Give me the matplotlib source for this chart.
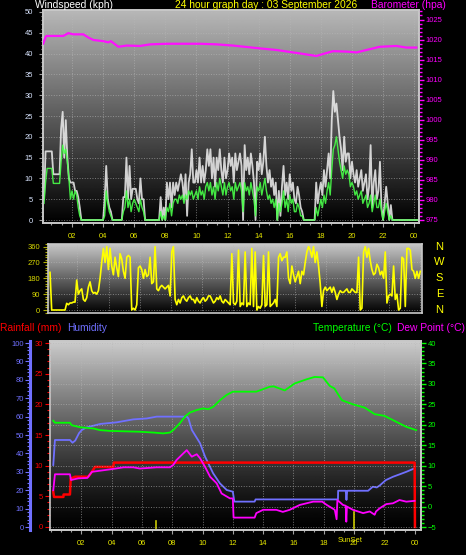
import numpy as np
import matplotlib.pyplot as plt
import matplotlib.transforms as mtransforms
from matplotlib.ticker import MultipleLocator, FixedLocator

plt.rcParams['font.family'] = ['Liberation Sans', 'DejaVu Sans']

# ---------------- data (hours since start of 24h window) ----------------
# wind speed, sampled every 6 minutes
wind_time = np.round(np.arange(0, 24.3, 0.1), 1)
gust = [
    np.nan, np.nan, 5, 16.5, 16.5, 16.5, 16.5, 16.5, 11, 11,
    11, 11, 11, 22, 26, 15, 24, 15, 10, 9,
    9, 9, 7, 7, 5.5, 3, 0, 0, 0, 0,
    0, 0, 0, 0, 0, 0, 0, 0, 0, 0,
    0, 5, 13, 5, 3, 2, 0, 0, 0, 0,
    0, 0, 0, 5.5, 5.5, 15, 5, 13, 5, 7.5,
    7.5, 7.5, 5, 4, 10, 5, 5, 0, 0, 0,
    0, 0, 0, 0, 0, 0, 0, 5.5, 0, 3,
    0, 9, 5, 9, 3, 9, 6, 9, 7, 9,
    11, 9, 5, 11, 1, 9, 11, 17, 9, 9,
    12, 9, 15, 9, 13, 9, 12, 17, 13, 17,
    10, 15, 8, 15, 12, 17, 12, 9, 15, 10,
    12, 16, 13, 15, 9, 16, 12, 14, 16, 13,
    0, 18, 12, 15, 11, 16, 13, 9, 0, 14,
    12, 16, 11, 14, 20, 13, 9, 12, 8, 10,
    6, 9, 0, 7, 1, 8, 13, 6, 9, 5,
    11, 7, 9, 5, 4, 8, 6, 3, 2, 0,
    0, 0, 0, 0, 0, 0, 0, 9, 4, 7,
    9, 6, 12, 8, 12, 16, 10, 24, 31, 26,
    28, 24, 20, 17, 12, 20, 14, 16, 16, 10,
    14, 11, 9, 12, 8, 10, 12, 7, 9, 11,
    5, 8, 18, 3, 9, 12, 5, 7, 14, 3,
    0, 4, 8, 4, 0, 3.6, 0, 0, 0, 0,
    0, 0, 0, 0, 0, 0, 0, 0, 0, 0,
    0, 0, 0,
]
avg = [
    np.nan, np.nan, 4, 9, 12.4, 12.4, 12.4, 12.4, 8.8, 8.8,
    8.8, 8.8, 8.8, 14, 18, 16, 17, 14, 10, 5,
    7, 5, 7, 6, 3, 1, 0, 0, 0, 0,
    0, 0, 0, 0, 0, 0, 0, 0, 0, 0,
    0, 1, 7, 4, 2, 1, 0, 0, 0, 0,
    0, 0, 0, 2, 3, 7, 3, 5, 2, 4,
    5, 4, 3, 2, 5, 3, 2, 0, 0, 0,
    0, 0, 0, 0, 0, 0, 0, 2, 0, 1,
    0, 3, 2, 4, 1, 4, 5, 5, 4, 6,
    5, 6, 4, 6, 5, 7, 6, 7, 5, 6,
    7, 5, 8, 6, 7, 5, 8, 9, 7, 9,
    6, 8, 5, 9, 7, 10, 8, 6, 9, 6,
    8, 9, 7, 8, 5, 9, 7, 8, 9, 7,
    2, 9, 7, 8, 6, 9, 7, 5, 1, 8,
    7, 9, 6, 8, 10, 7, 5, 6, 4, 5,
    3, 5, 0, 4, 2, 4, 7, 3, 5, 2,
    6, 4, 5, 2, 2, 4, 3, 1, 1, 0,
    0, 0, 0, 0, 0, 0, 0, 3, 1, 3,
    5, 3, 6, 4, 7, 9, 6, 12, 17, 18,
    20, 17, 14, 12, 10, 13, 11, 12, 11, 8,
    9, 8, 6, 7, 5, 6, 7, 4, 5, 6,
    3, 4, 6, 2, 4, 6, 3, 3, 5, 2,
    0, 2, 4, 2, 0, 1, 0, 0, 0, 0,
    0, 0, 0, 0, 0, 0, 0, 0, 0, 0,
    0, 0, 0,
]

baro_time = [0.15, 0.31, 0.37, 1.44, 1.76, 2.08, 2.73, 3.05, 3.37, 4.01,
             4.33, 4.5, 4.98, 5.52, 6.37, 7.02, 8.09, 10.23, 11.3, 12.35,
             14.07, 15.14, 16.64, 17.71, 18.14, 18.78, 19.64, 20.3, 20.93, 21.79,
             22.86, 23.5, 24.14]
baro = [1019.0, 1020.7, 1020.9, 1020.9, 1021.6, 1021.3, 1021.3, 1020.5, 1019.9, 1019.6,
        1019.3, 1019.6, 1018.2, 1018.5, 1018.4, 1018.8, 1018.95, 1018.95, 1018.8, 1018.5,
        1017.8, 1017.4, 1016.55, 1015.9, 1016.4, 1017.1, 1017.0, 1016.8, 1017.4, 1018.2,
        1018.4, 1018.0, 1018.0]

# wind direction (degrees), regular samples across the window
wind_dir = [
    214, 0, 0, 0, 0, 0, 0, 0, 0, 0,
    38, 30, 40, 40, 45, 45, 170, 90, 110, 120,
    60, 50, 70, 130, 160, 110, 95, 100, 90, 110,
    180, 270, 350, 270, 360, 230, 350, 250, 200, 300,
    240, 190, 320, 290, 220, 180, 300, 310, 300, 0,
    10, 0, 30, 240, 250, 230, 180, 230, 190, 200,
    300, 150, 160, 360, 120, 110, 130, 140, 130, 120,
    130, 140, 80, 330, 360, 60, 30, 60, 40, 70,
    80, 60, 50, 70, 80, 60, 60, 40, 70, 50,
    40, 60, 70, 50, 60, 80, 80, 60, 40, 50,
    70, 60, 80, 50, 40, 60, 50, 40, 30, 320,
    40, 30, 50, 340, 20, 40, 30, 330, 20, 40,
    30, 350, 20, 330, 0, 20, 10, 30, 310, 20,
    30, 330, 20, 30, 40, 60, 20, 300, 320, 280,
    300, 300, 330, 180, 150, 250, 200, 160, 190, 220,
    150, 220, 200, 270, 330, 360, 340, 300, 360, 270,
    330, 250, 150, 20, 110, 130, 110, 120, 130, 100,
    130, 100, 60, 90, 110, 100, 100, 110, 120, 100,
    100, 120, 110, 100, 100, 300, 0, 10, 330, 360,
    300, 350, 280, 230, 200, 210, 260, 240, 200, 220,
    180, 330, 40, 80, 90, 80, 250, 60, 90, 0,
    10, 300, 290, 20, 350, 350, 340, 230, 220, 180,
    220, 180, 220,
]
wd_time = np.linspace(0.24, 24.03, len(wind_dir))

temp_time = [0.15, 0.26, 1.25, 1.36, 1.92, 2.79, 3.23, 3.9, 5.87, 6.76,
             7.41, 7.85, 8.07, 8.51, 8.84, 9.17, 9.61, 10.05, 10.38, 10.71,
             11.15, 11.59, 12.0, 13.55, 14.44, 14.7, 15.43, 16.08, 16.85, 17.4,
             17.95, 18.4, 18.7, 19.2, 19.93, 20.7, 21.36, 22.0, 22.7, 23.45, 24.1]
temperature = [21.0, 20.5, 20.5, 19.9, 19.4, 19.1, 18.7, 18.5, 18.3, 18.1,
               17.9, 18.1, 18.7, 20.4, 22.0, 23.0, 23.6, 24.0, 23.8, 24.4,
               26.0, 27.3, 28.1, 28.1, 29.3, 29.4, 28.4, 30.1, 31.1, 31.7,
               31.6, 29.5, 28.9, 26.0, 25.0, 24.2, 22.6, 22.2, 20.9, 19.5, 18.7]

hum_time = [0.15, 0.26, 1.25, 1.42, 1.6, 1.85, 2.03, 2.3, 3.24, 4.34,
            5.43, 6.32, 6.98, 8.96, 9.07, 9.3, 9.84, 10.17, 10.7, 11.15,
            11.6, 12.0, 12.1, 13.44, 13.5, 18.94, 18.95, 19.45, 19.5, 19.55,
            20.93, 21.24, 21.5, 21.7, 22.1, 22.57, 23.0, 23.45, 24.0]
humidity = [33.7, 47.3, 47.3, 45.8, 47.0, 51.0, 52.7, 54.0, 56.0, 56.9,
            58.5, 59.0, 60.0, 60.0, 59.0, 52.7, 45.5, 38.2, 29.2, 23.7,
            20.1, 19.2, 13.8, 13.8, 15.0, 15.0, 19.7, 19.7, 14.7, 19.7,
            19.7, 21.9, 21.5, 22.6, 25.5, 27.3, 28.6, 30.0, 31.9]

dew_time = [0.15, 0.26, 1.25, 1.32, 1.8, 2.4, 2.7, 3.9, 4.8, 5.43,
            5.87, 6.98, 7.85, 8.07, 8.29, 8.62, 8.96, 9.29, 9.62, 9.84,
            10.17, 10.5, 10.93, 11.26, 11.81, 12.0, 12.05, 13.44, 13.55, 14.0,
            14.87, 15.3, 15.75, 16.42, 17.3, 17.9, 18.2, 18.73, 18.85, 18.9,
            19.27, 19.45, 19.49, 19.53, 19.93, 20.6, 21.04, 21.36, 21.45, 21.7,
            22.13, 22.57, 23.0, 23.45, 24.0]
dew_point = [4.0, 7.9, 7.9, 6.5, 6.9, 7.0, 8.5, 9.1, 9.6, 9.6,
             9.3, 9.6, 9.6, 10.2, 11.4, 12.6, 13.8, 12.2, 12.8, 11.8,
             9.7, 7.3, 5.7, 3.2, 2.0, 2.0, -2.7, -2.7, -1.6, -0.8,
             -0.8, -1.3, -0.8, 0.4, 1.2, 1.2, 0.4, -0.8, -3.1, 1.6,
             0.4, 0.2, -3.7, 0.0, -0.8, -1.6, -1.2, -2.0, -1.2, -0.4,
             0.6, 0.8, 1.6, 1.2, 1.4]

rain_time = [0.15, 0.2, 0.82, 0.83, 1.25, 1.3, 1.59, 2.46, 2.7, 2.9,
             4.11, 4.15, 24.0, 24.02]
rainfall = [5.75, 4.9, 4.9, 5.3, 5.3, 7.9, 8.2, 8.2, 9.0, 9.8,
            9.8, 10.5, 10.5, 0.0]

sunrise, sunset = 6.91, 20.0
hour_ticks = list(range(2, 25, 2))
hour_labels = ['02', '04', '06', '08', '10', '12', '14', '16', '18', '20', '22', '00']

# ---------------- figure ----------------
W, H = 466, 555
fig = plt.figure(figsize=(W / 100, H / 100), dpi=100, facecolor='black')


def px_axes(x0, y0, x1, y1):
    return fig.add_axes([x0 / W, 1 - y1 / H, (x1 - x0) / W, (y1 - y0) / H])


def gradient(ax, top, power):
    t = np.linspace(0, 1, 256)[:, None]
    g = top * (1 - t) ** power
    ax.imshow(g, cmap='gray', vmin=0, vmax=1, aspect='auto', extent=(0, 1, 0, 1),
              transform=ax.transAxes, zorder=0, interpolation='bilinear')


def frame(ax, color='#c8c8c8'):
    for s in ax.spines.values():
        s.set_color(color)
        s.set_linewidth(1.2)


GRID = dict(color='#b8b8b8', ls=':', lw=0.7, alpha=0.6)
YEL = '#e6e600'
FS = 5.5
TFS = 7.4

# ---- top panel: wind speed + barometer ----
ax1 = px_axes(43, 10, 419, 223)
ax1.set_facecolor('black')
gradient(ax1, 0.72, 1.0)
ax1.plot(wind_time, gust, color='#f0f0f0', lw=1.3, alpha=0.85, zorder=3)
ax1.plot(wind_time, avg, color='#48ff48', lw=1.0, alpha=0.9, zorder=4)
ax1.set_xlim(0.135, 24.31)
ax1.set_ylim(-0.72, 50.48)
ax1.grid(True, which='major', **GRID)
ax1.xaxis.set_major_locator(FixedLocator(hour_ticks))
ax1.set_xticklabels(hour_labels)
ax1.xaxis.set_minor_locator(MultipleLocator(2 / 3))
ax1.yaxis.set_major_locator(MultipleLocator(5))
ax1.yaxis.set_minor_locator(MultipleLocator(1))
ax1.tick_params(axis='x', which='major', color='#a0a0a0', labelcolor=YEL, labelsize=FS, length=3, width=0.8, pad=4)
ax1.tick_params(axis='y', which='major', color='#a0a0a0', labelcolor='#d8e4ff', labelsize=FS, length=3, width=0.8, pad=4)
ax1.tick_params(which='minor', color='#a0a0a0', length=1.5, width=0.8)
frame(ax1)

ax1p = ax1.twinx()
ax1p.plot(baro_time, baro, color='#ff10ff', lw=1.6, zorder=5)
ax1p.set_ylim(974.25, 1027.37)
ax1p.yaxis.set_major_locator(MultipleLocator(5))
ax1p.yaxis.set_minor_locator(MultipleLocator(1))
ax1p.tick_params(axis='y', which='major', colors='#ff00ff', labelsize=FS, length=3.5, width=1.0, pad=1.5)
ax1p.tick_params(axis='y', which='minor', colors='#ff00ff', length=2, width=1.0)
frame(ax1p)

# ---- wind direction panel ----
ax2 = px_axes(48, 244, 422, 313)
gradient(ax2, 0.78, 1.0)
ax2.plot(wd_time, wind_dir, color='#ffff00', lw=1.2, zorder=3)
ax2.set_xlim(0.11, 24.14)
ax2.set_ylim(-17, 375)
ax2.yaxis.set_major_locator(FixedLocator([0, 90, 180, 270, 360]))
ax2.yaxis.set_minor_locator(MultipleLocator(15))
ax2.xaxis.set_major_locator(FixedLocator(hour_ticks))
ax2.grid(True, which='major', **GRID)
ax2.tick_params(axis='x', which='both', length=0, labelbottom=False)
ax2.tick_params(axis='y', which='major', color='#b0b000', labelcolor='#d8d800', labelsize=FS, length=3.5, width=0.8, pad=2)
ax2.tick_params(axis='y', which='minor', color='#b0b000', length=2, width=0.8)
frame(ax2)
tr2 = mtransforms.blended_transform_factory(ax2.transAxes, ax2.transData)
for lab, deg in zip(['N', 'W', 'S', 'E', 'N'], [360, 270, 180, 90, 0]):
    ax2.text(1.047, deg, lab, transform=tr2, color='#ffff00', fontsize=8,
             ha='center', va='center')

# ---- bottom panel: humidity, rain, temperature, dew point ----
ax3 = px_axes(50, 341, 420.7, 530)
gradient(ax3, 0.8, 1.3)
ax3.plot(hum_time, humidity, color='#7070ff', lw=1.3, zorder=3)
ax3.set_xlim(-0.066, 24.4)
ax3.set_ylim(-1.63, 101.1)
ax3.xaxis.set_major_locator(FixedLocator(hour_ticks))
ax3.set_xticklabels(hour_labels)
ax3.xaxis.set_minor_locator(MultipleLocator(2 / 3))
ax3.yaxis.set_major_locator(MultipleLocator(10))
ax3.yaxis.set_minor_locator(MultipleLocator(2))
ax3.grid(True, which='major', axis='x', **GRID)
frame(ax3)
ax3.spines['left'].set_position(('outward', 14.4))
ax3.spines['left'].set_color('#7070ff')
ax3.spines['left'].set_linewidth(2.2)
ax3.tick_params(axis='x', which='major', color='#a0a0a0', labelcolor=YEL, labelsize=FS, length=3, width=0.8, pad=4)
ax3.tick_params(axis='x', which='minor', color='#a0a0a0', length=1.5, width=0.8)
ax3.tick_params(axis='y', which='major', colors='#7070ff', labelsize=FS, length=3.5, width=0.8, pad=1)
ax3.tick_params(axis='y', which='minor', colors='#7070ff', length=2, width=0.8)
ax3.axvline(sunrise, ymin=0, ymax=0.048, color='#c8c800', lw=1.2, zorder=4)
ax3.axvline(sunset, ymin=0, ymax=0.095, color='#c8c800', lw=1.2, zorder=4)
tr3 = mtransforms.blended_transform_factory(ax3.transData, ax3.transAxes)
ax3.text(19.75, -0.056, 'SunSet', transform=tr3, color=YEL, fontsize=FS,
         ha='center', va='center')

axr = ax3.twinx()
axr.plot(rain_time, rainfall, color='#ff0000', lw=1.8, zorder=3)
axr.set_ylim(-0.49, 30.33)
axr.yaxis.tick_left()
axr.yaxis.set_label_position('left')
axr.yaxis.set_major_locator(MultipleLocator(5))
axr.yaxis.set_minor_locator(MultipleLocator(1))
axr.tick_params(axis='y', which='major', colors='#ff0000', labelsize=FS, length=3.5, width=0.8, pad=1.5)
axr.tick_params(axis='y', which='minor', colors='#ff0000', length=2, width=0.8)
frame(axr)
axr.spines['right'].set_visible(False)

axt = ax3.twinx()
axt.plot(temp_time, temperature, color='#00ff00', lw=1.3, zorder=3)
axt.plot(dew_time, dew_point, color='#ff00ff', lw=1.3, zorder=3)
axt.set_ylim(-5.73, 40.49)
axt.yaxis.set_major_locator(MultipleLocator(5))
axt.yaxis.set_minor_locator(MultipleLocator(1))
axt.grid(True, which='major', axis='y', **GRID)
axt.tick_params(axis='y', which='major', colors='#00ff00', labelsize=FS, length=3.5, width=1.0, pad=1.5)
axt.tick_params(axis='y', which='minor', colors='#00ff00', length=2, width=1.0)
frame(axt)
axt.spines['left'].set_visible(False)

# ---- titles ----
def fx(px):
    return px / W


def fy(py):
    return 1 - py / H


fig.text(fx(35), fy(8.5), 'Windspeed (kph)', color='white', fontsize=TFS, va='baseline')
fig.text(fx(266), fy(8.5), '24 hour graph day : 03 September 2026', color='#ffff00',
         fontsize=TFS, va='baseline', ha='center')
fig.text(fx(446), fy(8.5), 'Barometer (hpa)', color='#ff00ff', fontsize=TFS, va='baseline', ha='right')
fig.text(fx(0), fy(331), 'Rainfall (mm)', color='#ff0000', fontsize=TFS, va='baseline')
fig.text(fx(67), fy(331), 'Humidity', color='#7070ff', fontsize=TFS, va='baseline')
fig.text(fx(392), fy(331), 'Temperature (°C)', color='#00ff00', fontsize=TFS, va='baseline', ha='right')
fig.text(fx(465), fy(331), 'Dew Point (°C)', color='#ff00ff', fontsize=TFS, va='baseline', ha='right')

fig.savefig('out.png', dpi=100, facecolor='black')
